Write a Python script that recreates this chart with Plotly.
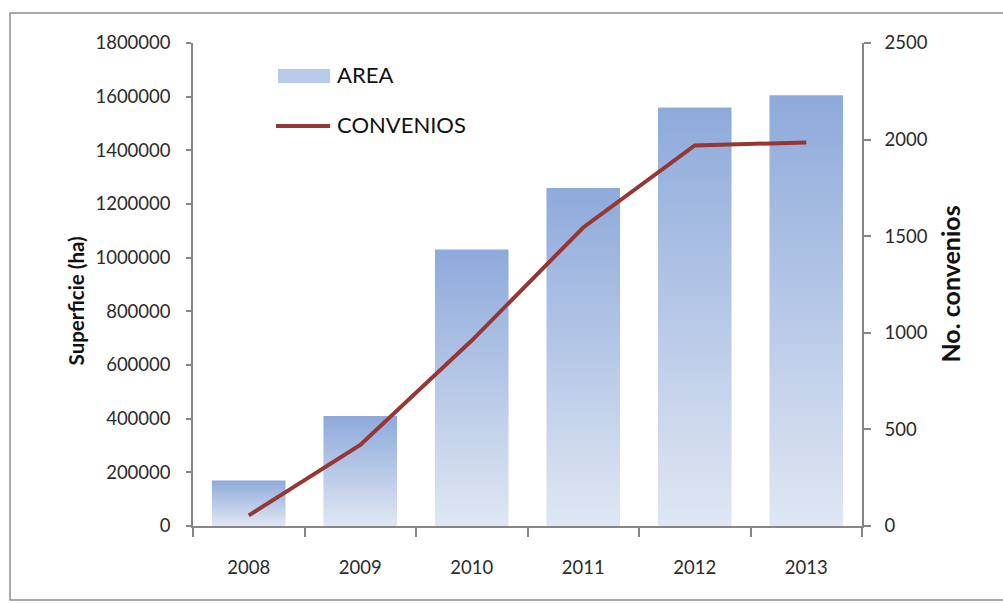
import plotly.graph_objects as go

# Yearly surface under agreement and number of agreements
years = ["2008", "2009", "2010", "2011", "2012", "2013"]
area_ha = [170000, 410000, 1030000, 1260000, 1560000, 1605000]
convenios = [55, 420, 960, 1545, 1970, 1985]

left_ticks = [0, 200000, 400000, 600000, 800000, 1000000, 1200000, 1400000, 1600000, 1800000]
right_ticks = [0, 500, 1000, 1500, 2000, 2500]

BAR_TOP = "#8EAADB"
BAR_BOTTOM = "#E0E7F3"
LINE_RED = "#953735"
AXIS_GREY = "#868686"
FONT = "Lato"

half = 0.33
xs = list(range(len(years)))

fig = go.Figure()

# Bars with a vertical gradient, each one filled from the axis up to its value
for i, v in zip(xs, area_ha):
    fig.add_trace(go.Scatter(
        x=[i - half, i - half, i + half, i + half, i - half],
        y=[0, v, v, 0, 0],
        mode="lines",
        fill="toself",
        line=dict(width=0, color="rgba(0,0,0,0)"),
        fillgradient=dict(type="vertical", start=0, stop=v,
                          colorscale=[[0, BAR_BOTTOM], [1, BAR_TOP]]),
        hoverinfo="skip",
        showlegend=False,
        yaxis="y",
    ))

# Agreements line on the secondary axis
fig.add_trace(go.Scatter(
    x=xs, y=convenios, mode="lines",
    line=dict(color=LINE_RED, width=4),
    showlegend=False, yaxis="y2",
))

tickfont = dict(family=FONT, size=18.5, color="#2a2a2a")

fig.update_layout(
    width=1003, height=603,
    margin=dict(l=193, r=141, t=43, b=77),
    paper_bgcolor="white", plot_bgcolor="white",
    showlegend=False,
    xaxis=dict(
        range=[-0.5, 5.5], tickmode="array", tickvals=xs, ticktext=years,
        ticks="", showgrid=False, zeroline=False,
        showline=True, linecolor=AXIS_GREY, linewidth=1.5,
        tickfont=tickfont, ticklabelstandoff=24,
        minor=dict(tickmode="array", tickvals=[x - 0.5 for x in range(len(years) + 1)],
                   ticks="outside", ticklen=9, tickcolor=AXIS_GREY, tickwidth=1.5,
                   showgrid=False),
    ),
    yaxis=dict(
        range=[0, 1800000], tickmode="array", tickvals=left_ticks,
        ticktext=[str(t) for t in left_ticks],
        ticks="outside", ticklen=5, tickcolor=AXIS_GREY, tickwidth=1.5,
        showline=True, linecolor=AXIS_GREY, linewidth=1.5,
        showgrid=False, zeroline=False, tickfont=tickfont, ticklabelstandoff=12,
    ),
    yaxis2=dict(
        range=[0, 2500], tickmode="array", tickvals=right_ticks,
        ticktext=[str(t) for t in right_ticks],
        overlaying="y", side="right",
        ticks="outside", ticklen=7, tickcolor=AXIS_GREY, tickwidth=1.5,
        showline=True, linecolor=AXIS_GREY, linewidth=1.5,
        showgrid=False, zeroline=False, tickfont=tickfont, ticklabelstandoff=10,
    ),
)

# Axis titles
fig.add_annotation(text="<b>Superficie (ha)</b>", xref="paper", yref="paper",
                   x=-0.1958, y=0.465, textangle=-90, showarrow=False,
                   font=dict(family=FONT, size=20.5, color="#111111"))
fig.add_annotation(text="<b>No. convenios</b>", xref="paper", yref="paper",
                   x=1.1555, y=0.5, textangle=-90, showarrow=False,
                   font=dict(family=FONT, size=25, color="#111111"))

# Legend
fig.add_shape(type="rect", xref="paper", yref="paper",
              x0=0.127, x1=0.205, y0=0.917, y1=0.946,
              line=dict(width=0), fillcolor="#B8CAEA")
fig.add_shape(type="line", xref="paper", yref="paper",
              x0=0.124, x1=0.205, y0=0.828, y1=0.828,
              line=dict(color=LINE_RED, width=4))
fig.add_annotation(text="AREA", xref="paper", yref="paper", x=0.212, y=0.934,
                   xanchor="left", yanchor="middle", showarrow=False,
                   font=dict(family=FONT, size=22, color="#111111"))
fig.add_annotation(text="CONVENIOS", xref="paper", yref="paper", x=0.212, y=0.832,
                   xanchor="left", yanchor="middle", showarrow=False,
                   font=dict(family=FONT, size=22, color="#111111"))

# Chart frame
fig.add_shape(type="rect", xref="paper", yref="paper",
              x0=-0.2735, x1=1.221, y0=-0.153, y1=1.062,
              line=dict(color="#8C8C8C", width=1.5), fillcolor="rgba(0,0,0,0)",
              layer="below")

fig.write_html("out.html")
